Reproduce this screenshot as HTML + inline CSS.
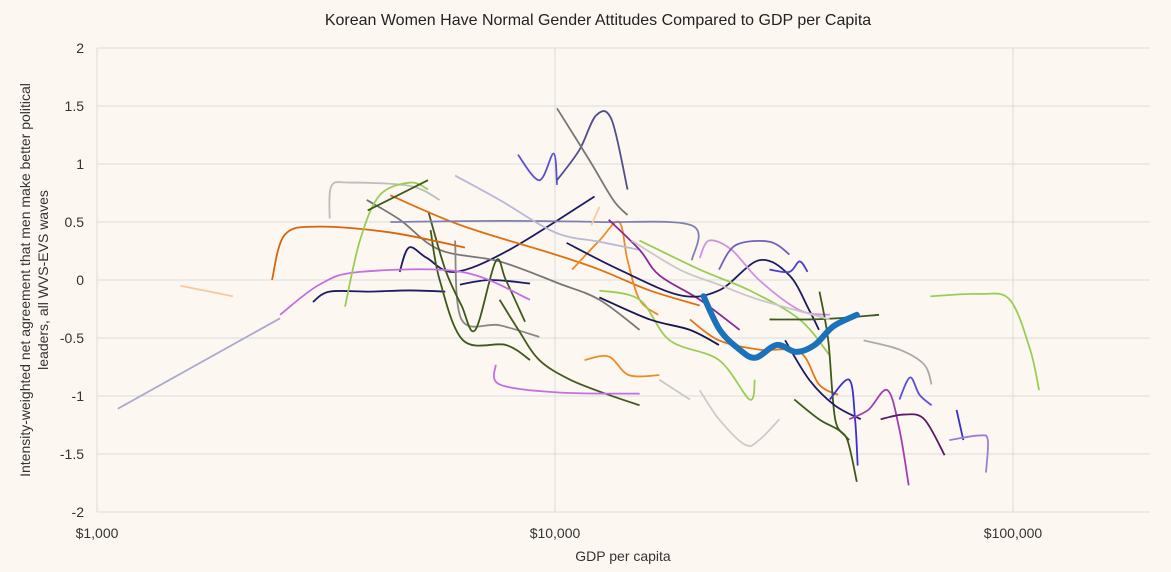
<!DOCTYPE html>
<html><head><meta charset="utf-8">
<style>
body{margin:0;background:#fdf7f2;}
svg{display:block;font-family:"Liberation Sans",sans-serif;}
</style></head>
<body>
<svg id="chart" width="1171" height="572">
<rect width="1171" height="572" fill="#fdf7f2"/>
<text x="598" y="25" text-anchor="middle" font-size="16" fill="#222">Korean Women Have Normal Gender Attitudes Compared to GDP per Capita</text>
<text x="623" y="561" text-anchor="middle" font-size="14" fill="#333">GDP per capita</text>
<text transform="translate(38,280) rotate(-90)" text-anchor="middle" font-size="14" fill="#333"><tspan x="0" dy="-8">Intensity-weighted net agreement that men make better political</tspan><tspan x="0" dy="18">leaders, all WVS-EVS waves</tspan></text>
<g id="grid"></g>
<g id="series"></g>
<g id="axes"></g>
</svg>
<script>
const yTicks=[2,1.5,1,0.5,0,-0.5,-1,-1.5,-2];
const xTicks=[1000,10000,100000];
const xTickLabels=["$1,000","$10,000","$100,000"];
const seriesColors=["#1c1c60","#1c1c60","#1c1c60","#777777","#888888","#3d5a1a","#445a20","#3d5a1a","#e07010","#f08a24","#f08a24","#e3761a","#9acd55","#c070e0","#c070e0","#8080b0","#b8b8d8","#5a50d8","#505088","#777777","#8a2a9a","#161650","#1c1c60","#9acd55","#d090e0","#7060c0","#4a40d0","#3d5a1a","#3d5a1a","#cccccc","#1c1c60","#3d5a1a","#3a30d0","#a040b0","#5a1a6a","#aaaaaa","#5a50d8","#3a30d0","#9a80d0","#9acd55","#f9c89b","#c8c8c8","#c8c8c8","#a9a9d0","#f9c89b","#d9650b","#bdbdbd","#9acd55","#3d5a1a"];
const seriesData=[
[[4580,0.07],[4800,0.28],[5250,0.19],[6050,0.07],[7950,0.26],[12200,0.72]],
[[2960,-0.19],[3220,-0.1],[3950,-0.1],[4800,-0.09],[5760,-0.1]],
[[6200,-0.04],[7210,0],[8820,-0.03]],
[[3880,0.69],[4580,0.52],[5600,0.26],[7570,0.16],[10200,-0.03],[12500,-0.17],[15300,-0.43]],
[[6050,0.34],[6250,-0.34],[7570,-0.39],[9240,-0.49]],
[[5290,0.59],[5760,0.09],[6250,-0.22],[6700,-0.43],[7420,0.16],[7810,0],[8600,-0.36]],
[[7570,-0.17],[8320,-0.43],[9240,-0.69],[10800,-0.86],[13100,-0.99],[15300,-1.08]],
[[5350,0.43],[5600,0],[6300,-0.52],[7810,-0.56],[8820,-0.69]],
[[4370,0.73],[6250,0.47],[10000,0.22],[12500,0.09],[16100,-0.09],[20700,-0.22]],
[[10900,0.09],[12500,0.34],[13800,0.5],[14400,0.17],[15300,-0.17],[16800,-0.3]],
[[11600,-0.69],[13100,-0.66],[14500,-0.82],[16900,-0.82]],
[[19700,-0.34],[22800,-0.52],[27900,-0.6],[34200,-0.62],[37700,-0.9],[41500,-0.99]],
[[12500,-0.09],[15300,-0.17],[17800,-0.52],[22800,-0.69],[26600,-1.03],[27300,-0.86]],
[[2510,-0.3],[3060,-0.04],[3750,0.07],[6250,0.07],[8820,-0.17]],
[[7420,-0.73],[7570,-0.9],[10200,-0.97],[15300,-0.98]],
[[4370,0.5],[7570,0.51],[12500,0.5],[19900,0.47],[19900,0.17]],
[[6050,0.9],[7570,0.69],[10000,0.41],[12500,0.33],[15300,0.26]],
[[8300,1.08],[9240,0.86],[9930,1.09],[10100,0.82]],
[[10100,0.86],[11300,1.12],[12300,1.42],[13300,1.38],[14400,0.78]],
[[10100,1.48],[11900,1.03],[13400,0.69],[14400,0.56]],
[[13100,0.52],[15300,0.26],[16900,0.04],[20700,-0.17],[25300,-0.43]],
[[12500,-0.15],[16100,-0.34],[19700,-0.43],[22800,-0.56]],
[[10600,0.32],[13800,0.09],[18700,-0.13],[22800,-0.09],[27900,0.17],[32500,0.04],[35900,-0.26],[37700,-0.43]],
[[15300,0.34],[20700,0.09],[26600,-0.09],[34200,-0.34],[39800,-0.65]],
[[20700,0.19],[21700,0.34],[24300,0.26],[27900,0],[34200,-0.26],[39800,-0.3]],
[[22800,0.09],[24800,0.3],[29400,0.33],[32500,0.22]],
[[29400,0.09],[32500,0.07],[34200,0.16],[35600,0.07]],
[[29400,-0.34],[35900,-0.34],[41500,-0.33],[51000,-0.3]],
[[37800,-0.1],[39500,-0.52],[40900,-1.2],[43500,-1.38],[45600,-1.74]],
[[20700,-0.95],[22800,-1.2],[26000,-1.42],[27900,-1.38],[30900,-1.2]],
[[31800,-0.52],[35900,-0.86],[40800,-1.08],[46500,-1.2]],
[[33300,-1.03],[37700,-1.2],[41500,-1.29],[43900,-1.38]],
[[39800,-1.03],[43900,-0.86],[45200,-1.2],[45800,-1.6]],
[[43900,-1.2],[48300,-1.12],[53200,-0.95],[56500,-1.29],[59200,-1.77]],
[[51400,-1.2],[57800,-1.16],[64000,-1.2],[70900,-1.51]],
[[47200,-0.52],[56500,-0.6],[64000,-0.73],[66400,-0.9]],
[[56500,-1.03],[59600,-0.84],[62500,-0.99],[66400,-1.08]],
[[75300,-1.12],[77900,-1.38]],
[[72600,-1.38],[84500,-1.34],[88100,-1.38],[87300,-1.66]],
[[66000,-0.14],[84500,-0.12],[98400,-0.17],[109000,-0.6],[114000,-0.95]],
[[12000,0.47],[12500,0.63]],
[[14700,0.34],[18700,0.09],[22800,-0.04],[27900,-0.17],[39800,-0.34]],
[[16900,-0.86],[19700,-1.03]],
[[1110,-1.11],[2510,-0.33]],
[[1520,-0.05],[1980,-0.14]],
[[2410,0],[2570,0.39],[3050,0.46],[4370,0.41],[6360,0.28]],
[[3220,0.53],[3250,0.81],[3570,0.84],[4830,0.81],[5600,0.69]],
[[3480,-0.23],[3750,0.34],[4140,0.73],[4830,0.84],[5280,0.78]],
[[3900,0.6],[5280,0.86]]
];
const koreaData=[[21100,-0.14],[22900,-0.43],[25300,-0.6],[27400,-0.67],[30500,-0.56],[33600,-0.62],[36900,-0.56],[40500,-0.4],[45600,-0.3]];

const L=97,R=1150,T=48,B=512;
const xs=v=>97+458*(Math.log10(v)-3);
const ys=v=>280-116*v;
const NS="http://www.w3.org/2000/svg";
function mk(tag,attrs,parent){const e=document.createElementNS(NS,tag);for(const k in attrs)e.setAttribute(k,attrs[k]);parent.appendChild(e);return e;}
const grid=document.getElementById('grid'),axes=document.getElementById('axes'),sg=document.getElementById('series');
yTicks.forEach(t=>{
  const l=mk('line',{x1:L,x2:R,y1:ys(t),y2:ys(t),stroke:'#dcdcdc','stroke-width':1},grid);
  
  
  const tx=mk('text',{x:84,y:ys(t)+5,'text-anchor':'end','font-size':14,fill:'#333'},axes);
  tx.textContent=String(t);
  
  
});
xTicks.forEach((t,i)=>{
  const l=mk('line',{x1:xs(t),x2:xs(t),y1:T,y2:B,stroke:'#dcdcdc','stroke-width':1},grid);
  
  
  const tx=mk('text',{x:xs(t),y:538,'text-anchor':'middle','font-size':14,fill:'#333'},axes);
  tx.textContent=xTickLabels[i];
  
  
});
function pathD(pts){
  const p=pts.map(d=>[xs(d[0]),ys(d[1])]);
  let d='M'+p[0][0]+','+p[0][1];
  for(let i=0;i<p.length-1;i++){
    const p0=p[Math.max(0,i-1)],p1=p[i],p2=p[i+1],p3=p[Math.min(p.length-1,i+2)];
    const c1=[p1[0]+(p2[0]-p0[0])/6,p1[1]+(p2[1]-p0[1])/6];
    const c2=[p2[0]-(p3[0]-p1[0])/6,p2[1]-(p3[1]-p1[1])/6];
    d+=' C'+c1[0]+','+c1[1]+' '+c2[0]+','+c2[1]+' '+p2[0]+','+p2[1];
  }
  return d;
}
seriesData.forEach((s,i)=>{
  const e=mk('path',{d:pathD(s),fill:'none',stroke:seriesColors[i%seriesColors.length],'stroke-width':1.8},sg);
  
  
});
const k=mk('path',{d:pathD(koreaData),fill:'none',stroke:'#1a72bb','stroke-width':6,'stroke-linecap':'round'},sg);


</script>
</body></html>
